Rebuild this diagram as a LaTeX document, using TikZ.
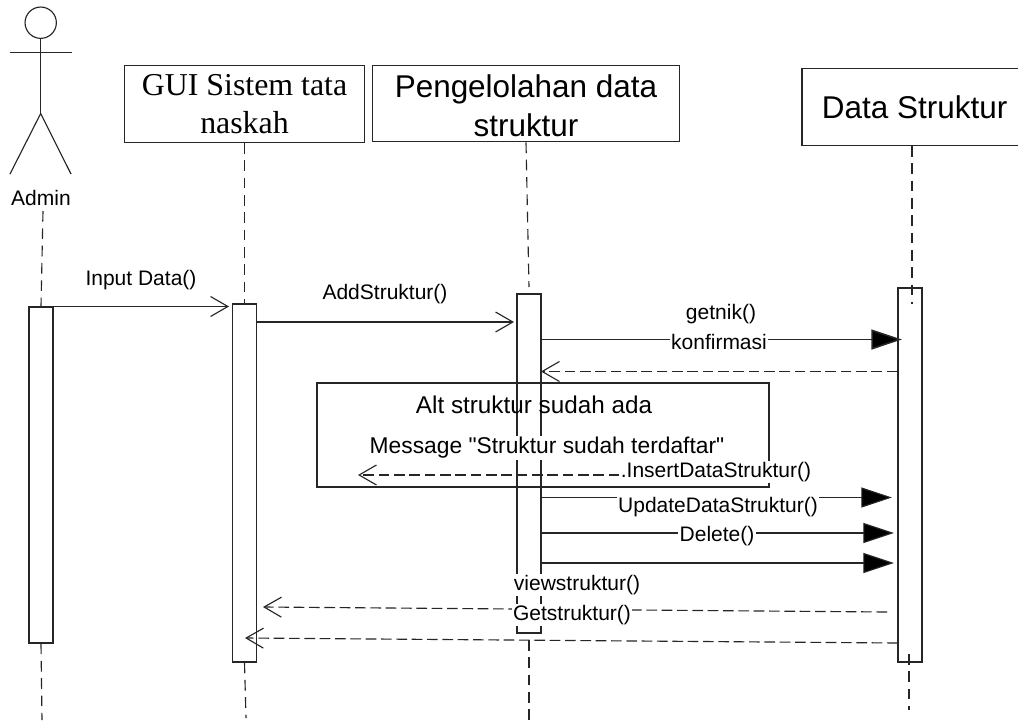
\documentclass[tikz,border=0pt]{standalone}
\usepackage{fontspec}
\setmainfont{Liberation Sans}
\newfontfamily\serifhead{Liberation Serif}
\newfontfamily\plainsans{Liberation Sans}
\usetikzlibrary{arrows.meta}
\tikzset{
  base/.style={line width=0.85pt,black!85},
  headbox/.style={draw,base,text=black,align=center,inner sep=0pt,font=\fontsize{23.6}{29}\selectfont},
  bar/.style={draw,base,minimum width=18pt,inner sep=0pt},
  life/.style={base,dash pattern=on 8pt off 5pt},
  msg/.style={base,-{Straight Barb[length=13pt,width=15pt]}},
  ret/.style={base,dash pattern=on 8pt off 3.5pt,-{Straight Barb[length=13pt,width=15pt]}},
  call/.style={base,-{Triangle[length=23pt,width=15pt,fill=black]}},
  lab/.style={fill=white,text=black,inner sep=1pt,font=\fontsize{15.75}{18}\selectfont},
}
\begin{document}
\begin{tikzpicture}[x=0.75pt,y=-0.75pt]
\clip (0,0) rectangle (1018,725);
\fill[white] (0,0) rectangle (1018,725);
% actor
\node[circle,draw,base,minimum size=23.5pt,inner sep=0pt] (head) at (40.7,22.7) {};
\coordinate (hip) at (40.7,113.5);
\coordinate (armL) at (10,52.7);
\coordinate (armR) at (72,52.7);
\coordinate (legL) at (10,174);
\coordinate (legR) at (71,174);
\draw[base] (head.south) -- (hip);
\draw[base] (armL) -- (armR);
\draw[base] (legL) -- (hip) -- (legR);
\node[lab,fill=none] (admin) at (41,198) {Admin};
% heads
\node[headbox,minimum width=179.5pt,minimum height=57.5pt,font=\serifhead\fontsize{23.9}{29}\selectfont] (gui) at (244.5,104) {GUI Sistem tata\\naskah};
\node[headbox,minimum width=230pt,minimum height=57.5pt] (proc) at (526,103.5) {\rule{0pt}{20pt}Pengelolahan data\\struktur};
\node[headbox,minimum width=165pt,minimum height=57.5pt] (data) at (912,107) {\hspace*{4pt}Data Struktur};
% activations
\node[bar,minimum height=252pt] (abar) at (41,475) {};
\node[bar,minimum height=268.5pt] (gbar) at (244.5,483) {};
\node[bar,minimum height=254.25pt] (pbar) at (529,463.5) {};
\node[bar,minimum height=280.5pt] (dbar) at (910,475) {};
% lifelines
\coordinate (aTop) at (43,211);
\coordinate (aEnd) at (42,720);
\coordinate (gEnd) at (246,718);
\coordinate (pTopEnd) at (529,287);
\coordinate (pLow) at (529,640);
\coordinate (pEnd) at (529,725);
\coordinate (dTopEnd) at (912,304);
\coordinate (dLow) at (909,654);
\coordinate (dEnd) at (909,710);
\draw[life] (aTop) -- (abar.north);
\draw[life] (abar.south) -- (aEnd);
\draw[life] (gui.south) -- (gbar.north);
\draw[life] (gbar.south) -- (gEnd);
\draw[life] (proc.south) -- (pTopEnd);
\draw[life] (pLow) -- (pEnd);
\draw[life] (data.south) -- (dTopEnd);
\draw[life] (dLow) -- (dEnd);
% alt frame
\coordinate (altTL) at (317,383);
\coordinate (altBR) at (769,487);
\draw[base] (altTL) rectangle (altBR);
\node[text=black,inner sep=0pt,font=\fontsize{18.2}{22}\selectfont] (alt) at (534,405) {Alt struktur sudah ada};
% message end points
\coordinate (m1) at (229,306.5);
\coordinate (m2) at (514,322);
\coordinate (m3) at (902,339.5);
\coordinate (m4) at (541,371.5);
\coordinate (m5) at (358,475);
\coordinate (m6) at (892,497.5);
\coordinate (m7) at (894,533);
\coordinate (m8) at (894,563);
\coordinate (m9s) at (887,612);
\coordinate (m9) at (263,607);
\coordinate (m10s) at (897.7,643);
\coordinate (m10) at (245,638);
% messages
\draw[msg] (abar.north east |- m1) -- (m1);
\draw[msg] (gbar.east |- m2) -- (m2);
\draw[call,line width=1.2pt] (pbar.east |- m3) -- (m3);
\draw[ret] (dbar.west |- m4) -- (m4);
\node[lab] (l5) at (547,448) {\plainsans\fontsize{17.1}{20}\selectfont Message "Struktur sudah terdaftar"};
\node[lab] (insert) at (716,472) {.InsertDataStruktur()};
\draw[ret] (insert.west |- m5) -- (m5);
\draw[call] (pbar.east |- m6) -- (m6);
\draw[call] (pbar.east |- m7) -- (m7);
\draw[call] (pbar.east |- m8) -- (m8);
\draw[ret] (m9s) -- (m9);
\draw[ret] (m10s) -- (m10);
% labels
\node[lab,fill=none] (l1) at (141,280) {Input Data()};
\node[lab,fill=none] (l2) at (385,294) {AddStruktur()};
\node[lab] (l3) at (721,314) {getnik()};
\node[lab] (l4) at (719,342) {konfirmasi};
\node[lab] (l6) at (718,507) {UpdateDataStruktur()};
\node[lab] (l7) at (717,536) {Delete()};
\node[lab] (l8) at (577,585) {viewstruktur()};
\node[lab] (l9) at (572,615) {Getstruktur()};
\end{tikzpicture}
\end{document}
